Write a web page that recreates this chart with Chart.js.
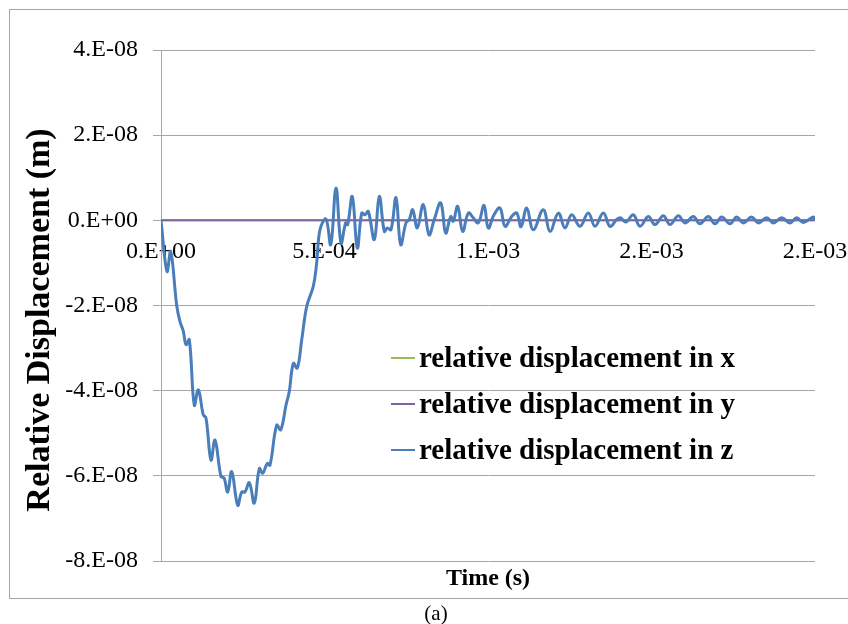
<!DOCTYPE html>
<html>
<head>
<meta charset="utf-8">
<script src="https://cdn.jsdelivr.net/npm/chart.js@4.4.1/dist/chart.umd.min.js"></script>
<style>
  html, body { margin: 0; padding: 0; background: #fff; }
  #chart { position: absolute; left: 0; top: 0; }
</style>
</head>
<body>
<canvas id="chart" width="848" height="624"></canvas>
<script>
// time in microseconds, displacement in nanometres
const timeZ = [0, 18.3, 29.7, 48.0, 58.1, 68.2, 76.5, 86.5, 101.8, 114.1,
  129.4, 137.6, 152.9, 165.1, 183.5, 192.7, 204.0, 216.2, 234.6, 246.8,
  256.9, 270.0, 285.3, 300.6, 311.0, 325.1, 333.3, 353.8, 366.1, 382.3,
  392.3, 404.6, 416.8, 430.3, 445.6, 465.7, 476.1, 486.2, 504.6, 519.0,
  535.2, 550.5, 564.8, 570.9, 585.0, 600.3, 613.8, 623.9, 633.9, 652.3,
  667.6, 682.9, 692.0, 703.4, 718.7, 733.0, 749.2, 759.3, 769.7, 783.8,
  802.1, 819.6, 834.9, 855.4, 870.6, 885.9, 893.9, 907.3, 922.6, 939.8,
  955.0, 970.3, 987.8, 1000.9, 1018.3, 1036.7, 1052.0, 1072.5, 1087.8, 1101.0,
  1118.3, 1138.5, 1169.1, 1189.6, 1215.0, 1235.5, 1255.9, 1281.3, 1306.7, 1327.2,
  1352.6, 1373.1, 1393.6, 1405, 1422, 1444.3, 1464.8, 1490.2, 1510.7, 1536.1,
  1556.6, 1582.0, 1602.4, 1627.9, 1648.3, 1673.7, 1694.2, 1714.7, 1740.1, 1760.6,
  1780.7, 1806.4, 1826.6, 1852.3, 1872.5, 1898.2, 1923.5, 1944.0, 1964.2, 1994.6,
  2000];
const dispZ = [0, -12, -7.3, -20, -23.8, -26, -29.2, -28, -43.4, -39.8,
  -45.7, -46.4, -56.3, -51.6, -60.2, -60.5, -63.8, -59, -66.9, -63.8,
  -63.8, -61.6, -66.4, -58.3, -59.4, -57.1, -57.5, -48.1, -49.2, -43.4,
  -40.2, -33.6, -34.7, -28.1, -20.2, -15.5, -10, -2.2, 0.3, -5.7,
  7.6, -5.3, -0.6, -1.0, 5.6, -6.5, 1.7, 1.3, 2.1, -4.5,
  5.6, -2.6, -1.8, -2.2, 5.3, -5.7, -0.6, 0.2, 2.5, -1.8,
  3.7, -3.4, 0, 4.1, -3.0, 0.9, -0.2, 3.3, -2.6, 1.7,
  0.6, -0.6, 3.5, -1.8, 1.3, 2.9, -1.4, 0.9, 1.7, -1.5,
  2.9, -2.2, 2.5, -2.6, 1.7, -1.8, 1.3, -1.4, 1.7, -1.4,
  1.7, -1.4, 0.2, 0.6, -0.4, 1.3, -1.4, 0.9, -1.0, 1.1,
  -1.0, 1.1, -0.6, 0.9, -0.8, 0.9, -0.8, 0.8, -0.8, 0.8,
  -0.6, 0.8, -0.6, 0.6, -0.6, 0.6, -0.6, 0.6, -0.5, 0.8,
  0];

// x and y components stay at zero over the whole run
const timeXY = [0, 2000];
const dispX = [0, 0];
const dispY = [0, 0];

const seriesNames = ['relative displacement in x', 'relative displacement in y', 'relative displacement in z'];
const seriesColors = ['#9BBB59', '#8064A2', '#4A7EBB'];

const yTicks = { min: -8e-8, max: 4e-8, step: 2e-8 };
const xTicks = { min: 0, max: 2e-3, step: 5e-4 };

const serif = '"Liberation Serif", "Times New Roman", serif';

// Excel style "0.E+00" number format
function sciLabel(v) {
  if (Math.abs(v) < 1e-15) return '0.E+00';
  let exp = Math.floor(Math.log10(Math.abs(v)));
  let m = Math.round(v / Math.pow(10, exp));
  if (Math.abs(m) === 10) { m = m / 10; exp += 1; }
  const e = Math.abs(exp) < 10 ? '0' + Math.abs(exp) : '' + Math.abs(exp);
  return m + '.E' + (exp < 0 ? '-' : '+') + e;
}

function toPoints(times, values) {
  return times.map((t, i) => ({ x: t * 1e-6, y: values[i] * 1e-9 }));
}

// frame, axis titles, caption and the in-plot legend
const decorations = {
  id: 'decorations',
  afterDraw(chart) {
    const ctx = chart.ctx;
    ctx.save();
    ctx.strokeStyle = '#a6a6a6';
    ctx.lineWidth = 1;
    ctx.strokeRect(9.5, 9.5, 900, 589);

    ctx.fillStyle = '#000';
    ctx.save();
    ctx.translate(40, 320);
    ctx.rotate(-Math.PI / 2);
    ctx.font = 'bold 34px ' + serif;
    ctx.textAlign = 'center';
    ctx.textBaseline = 'middle';
    ctx.fillText('Relative Displacement (m)', 0, 0);
    ctx.restore();

    ctx.textAlign = 'center';
    ctx.textBaseline = 'alphabetic';
    ctx.font = 'bold 24px ' + serif;
    ctx.fillText('Time (s)', 488, 585);
    ctx.font = '21px ' + serif;
    ctx.fillText('(a)', 436, 620);

    ctx.textAlign = 'left';
    ctx.font = 'bold 29px ' + serif;
    const baselines = [367, 413, 459];
    chart.data.datasets.forEach((ds, i) => {
      const y = baselines[i];
      ctx.strokeStyle = ds.borderColor;
      ctx.lineWidth = 2;
      ctx.beginPath();
      ctx.moveTo(391, y - 9);
      ctx.lineTo(415, y - 9);
      ctx.stroke();
      ctx.fillText(ds.label, 419, y);
    });
    ctx.restore();
  }
};

new Chart(document.getElementById('chart'), {
  type: 'line',
  data: {
    datasets: [
      {
        label: seriesNames[0],
        data: toPoints(timeXY, dispX),
        borderColor: seriesColors[0],
        borderWidth: 2,
        pointRadius: 0,
        order: 2
      },
      {
        label: seriesNames[1],
        data: toPoints(timeXY, dispY),
        borderColor: seriesColors[1],
        borderWidth: 2,
        pointRadius: 0,
        order: 1
      },
      {
        label: seriesNames[2],
        data: toPoints(timeZ, dispZ),
        borderColor: seriesColors[2],
        borderWidth: 3,
        pointRadius: 0,
        tension: 0.4,
        order: 0
      }
    ]
  },
  options: {
    responsive: false,
    animation: false,
    layout: { padding: { left: 0, top: 50, right: 33, bottom: 63 } },
    plugins: {
      legend: { display: false },
      tooltip: { enabled: false }
    },
    scales: {
      x: {
        type: 'linear',
        position: { y: 0 },
        min: xTicks.min,
        max: xTicks.max,
        // end labels may hang over the plot edge
        afterFit: scale => { scale.paddingLeft = 0; scale.paddingRight = 0; },
        grid: { display: false, drawTicks: false },
        border: { display: false },
        ticks: {
          stepSize: xTicks.step,
          padding: 17,
          maxRotation: 0,
          color: '#000',
          font: { family: serif, size: 24 },
          callback: v => sciLabel(v)
        }
      },
      y: {
        type: 'linear',
        min: yTicks.min,
        max: yTicks.max,
        afterFit: scale => { scale.width = 161; },
        grid: { color: '#a6a6a6', lineWidth: 1, tickLength: 8 },
        border: { color: '#a6a6a6' },
        ticks: {
          stepSize: yTicks.step,
          padding: 15,
          color: '#000',
          font: { family: serif, size: 24 },
          callback: v => sciLabel(v)
        }
      }
    }
  },
  plugins: [decorations]
});
</script>
</body>
</html>
